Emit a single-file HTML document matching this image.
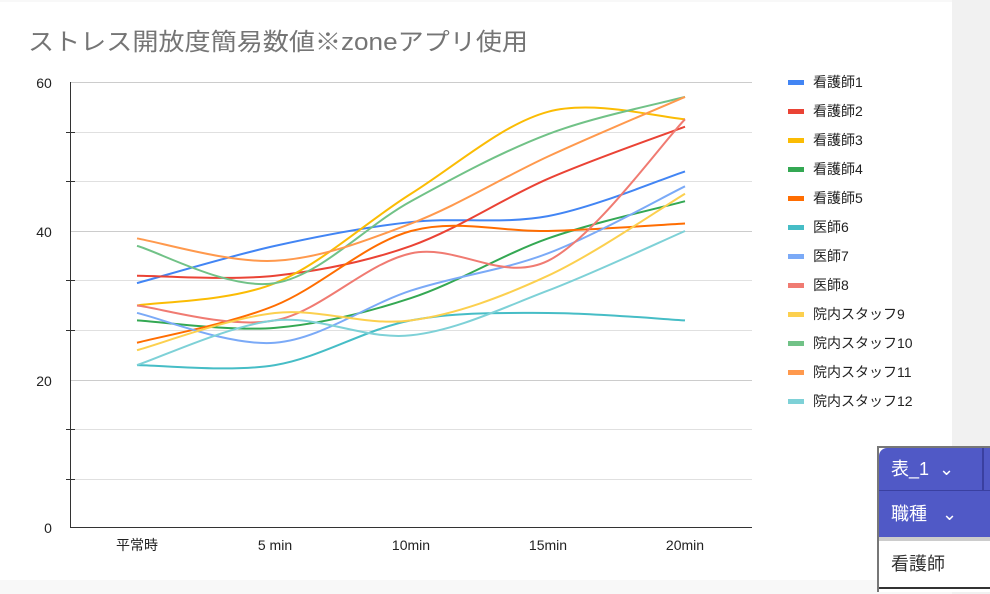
<!DOCTYPE html>
<html><head><meta charset="utf-8"><style>
html,body{margin:0;padding:0}
body{width:990px;height:594px;background:#f8f8f8;position:relative;overflow:hidden;font-family:"Liberation Sans","Noto Sans CJK JP",sans-serif}
#card{position:absolute;left:0;top:2px;width:952px;height:578px;background:#fff}
#rstrip{position:absolute;left:952px;top:0;width:38px;height:594px;background:#f1f1f1}
.w{position:absolute;font-family:"Liberation Sans","Noto Sans CJK JP",sans-serif}
</style></head><body>
<div id="rstrip"></div>
<div id="card"></div>
<svg id="s" width="990" height="594" style="position:absolute;left:0;top:0" font-family="Liberation Sans, Noto Sans CJK JP, sans-serif">
<text x="28" y="50" font-size="24" fill="#757575" textLength="500" lengthAdjust="spacingAndGlyphs">ストレス開放度簡易数値※zoneアプリ使用</text>
<g stroke="#e0e0e0" stroke-width="1">
<line x1="70" x2="752" y1="82.5" y2="82.5" stroke="#ccc"/>
<line x1="70" x2="752" y1="132.5" y2="132.5"/>
<line x1="70" x2="752" y1="181.5" y2="181.5"/>
<line x1="70" x2="752" y1="231.5" y2="231.5" stroke="#ccc"/>
<line x1="70" x2="752" y1="280.5" y2="280.5"/>
<line x1="70" x2="752" y1="330.5" y2="330.5"/>
<line x1="70" x2="752" y1="380.5" y2="380.5" stroke="#ccc"/>
<line x1="70" x2="752" y1="429.5" y2="429.5"/>
<line x1="70" x2="752" y1="479.5" y2="479.5"/>
</g>
<g stroke="#333" stroke-width="1">
<line x1="70.5" x2="70.5" y1="82" y2="528"/>
<line x1="70" x2="752" y1="527.5" y2="527.5"/>
<line x1="66" x2="75" y1="132.5" y2="132.5"/><line x1="66" x2="75" y1="181.5" y2="181.5"/>
<line x1="66" x2="75" y1="280.5" y2="280.5"/><line x1="66" x2="75" y1="330.5" y2="330.5"/>
<line x1="66" x2="75" y1="429.5" y2="429.5"/><line x1="66" x2="75" y1="479.5" y2="479.5"/>
</g>
<g font-size="14" fill="#222" text-anchor="middle">
<text x="44" y="88">60</text><text x="44" y="237">40</text><text x="44" y="386">20</text><text x="48" y="533">0</text>
<text x="137" y="550">平常時</text><text x="275" y="550">5 min</text><text x="411" y="550">10min</text><text x="548" y="550">15min</text><text x="685" y="550">20min</text>
</g>
<g id="lines" fill="none" stroke-width="2"></g>
<g id="leg" font-size="14" fill="#222"></g>
</svg>
<div class="w" style="left:877px;top:446px;width:113px;height:144px;background:#fff;border-left:2px solid #777;border-top:2px solid #777"></div>
<div class="w" style="left:879px;top:448px;width:111px;height:42px;background:#5059c6;border-top-left-radius:8px;color:#fff;font-size:18px;line-height:42px;padding-left:12px;box-sizing:border-box">表_1 &nbsp;⌄</div>
<div class="w" style="left:982px;top:448px;width:2px;height:42px;background:#3a40a0"></div>
<div class="w" style="left:879px;top:490px;width:111px;height:47px;background:#5059c6;border-top:1px solid #3a40a0;color:#fff;font-size:18px;line-height:46px;padding-left:12px;box-sizing:border-box">職種 &nbsp;&nbsp;⌄</div>
<div class="w" style="left:879px;top:537px;width:111px;height:4px;background:#ccc"></div>
<div class="w" style="left:879px;top:541px;width:111px;height:46px;color:#333;font-size:18px;line-height:46px;padding-left:12px;box-sizing:border-box">看護師</div>
<div class="w" style="left:879px;top:587px;width:111px;height:2px;background:#333"></div>
<script>
var X=[137,275,411,548,685];
var S=[["看護師1","#4285f4",[33,38,41.2,42,48]],
["看護師2","#ea4335",[34,34,38,47,54]],
["看護師3","#fbbc04",[30,33,45,56,55]],
["看護師4","#34a853",[28,27,31,39,44]],
["看護師5","#ff6d01",[25,30,40,40,41]],
["医師6","#46bdc6",[22,22,28,29,28]],
["医師7","#7baaf7",[29,25,32,37,46]],
["医師8","#f07b72",[30,28,37,36,55]],
["院内スタッフ9","#fcd04f",[24,29,28,34,45]],
["院内スタッフ10","#71c287",[38,33,44,53,58]],
["院内スタッフ11","#ff994d",[39,36,41,50,58]],
["院内スタッフ12","#7ed1d7",[22,28,26,32,40]]];
function Y(v){return 529-v*7.45;}
var L=document.getElementById('lines'),G=document.getElementById('leg'),ns='http://www.w3.org/2000/svg';
S.forEach(function(s,i){
 var p=X.map(function(x,j){return [x,Y(s[2][j])];});
 var d='M'+p[0][0]+','+p[0][1];
 for(var k=0;k<p.length-1;k++){
  var p0=p[k-1]||p[k],p1=p[k],p2=p[k+1],p3=p[k+2]||p[k+1];
  var c1=[p1[0]+(p2[0]-p0[0])/6,p1[1]+(p2[1]-p0[1])/6];
  var c2=[p2[0]-(p3[0]-p1[0])/6,p2[1]-(p3[1]-p1[1])/6];
  d+=' C'+c1+' '+c2+' '+p2;
 }
 var e=document.createElementNS(ns,'path');e.setAttribute('d',d);e.setAttribute('stroke',s[1]);L.appendChild(e);
 var y=82+i*29;
 var r=document.createElementNS(ns,'rect');r.setAttribute('x',788);r.setAttribute('y',y-2);r.setAttribute('width',16);r.setAttribute('height',5);r.setAttribute('fill',s[1]);G.appendChild(r);
 var t=document.createElementNS(ns,'text');t.setAttribute('x',813);t.setAttribute('y',y+5);t.textContent=s[0];G.appendChild(t);
});
</script>
</body></html>
